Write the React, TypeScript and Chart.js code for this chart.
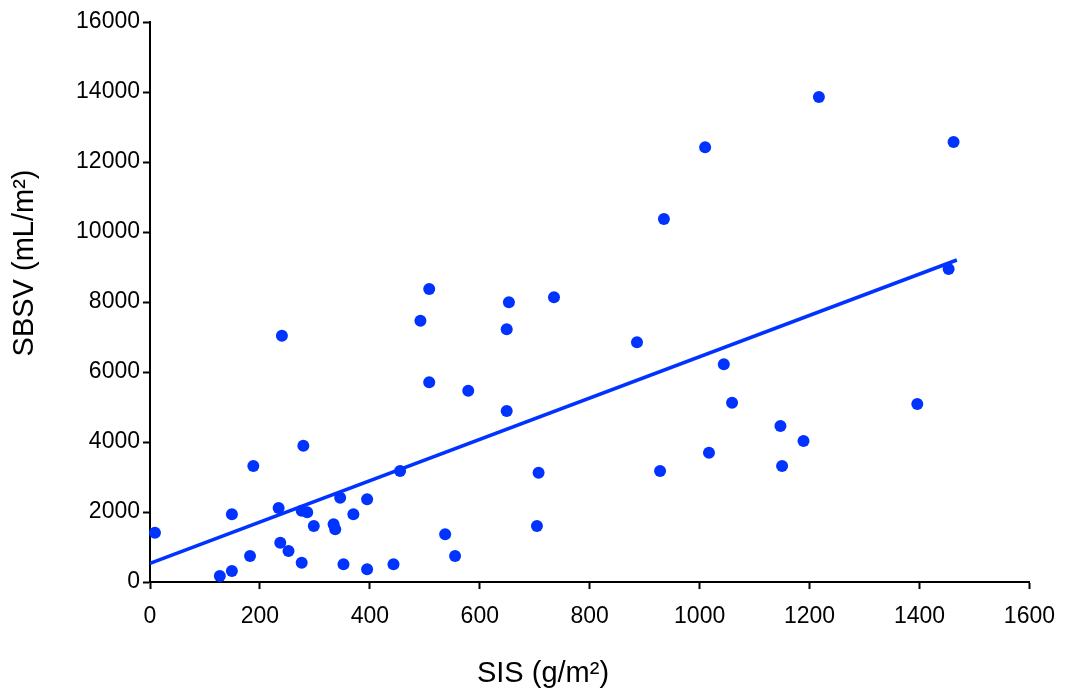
import React, { useEffect, useRef } from "react";
import { Chart, registerables } from "chart.js";

Chart.register(...registerables);

// SIS (g/m²) values
const sisValues: number[] = [
  9, 127, 149, 149, 182, 188, 240, 234, 237, 252,
  276, 279, 276, 286, 298, 334, 337, 346, 352, 370,
  395, 395, 443, 455, 492, 508, 508, 579, 537, 555,
  653, 649, 735, 649, 886, 1044, 1059, 1147, 1017, 1150,
  928, 707, 704, 1217, 1462, 1453, 1396, 1189, 1010, 935,
];
// SBSV (mL/m²) values
const sbsvValues: number[] = [
  1409, 171, 314, 1933, 743, 3314, 7038, 2114, 1124, 886,
  552, 3895, 2038, 1990, 1600, 1648, 1505, 2410, 505, 1933,
  2362, 362, 505, 3171, 7467, 8371, 5705, 5467, 1362, 743,
  7990, 7219, 8133, 4886, 6848, 6219, 5124, 4457, 3695, 3314,
  3171, 3124, 1600, 13857, 12571, 8943, 5086, 4029, 12419, 10371,
];
// Regression line endpoints
const fitX: number[] = [0, 1468];
const fitY: number[] = [534, 9200];

const xTicks = { min: 0, max: 1600, step: 200 };
const yTicks = { min: 0, max: 16000, step: 2000 };

const xTitle = "SIS (g/m²)";
const yTitle = "SBSV (mL/m²)";

const BLUE = "rgb(0,51,255)";
const FONT = "'Liberation Sans', Arial, Helvetica, sans-serif";

const titlePlugin = {
  id: "axisTitles",
  afterDraw(chart: any) {
    const ctx = chart.ctx;
    ctx.save();
    ctx.fillStyle = "#000";
    ctx.font = `29px ${FONT}`;
    ctx.textAlign = "center";
    ctx.textBaseline = "alphabetic";
    ctx.fillText(xTitle, 543, 682);
    ctx.translate(33, 263);
    ctx.rotate(-Math.PI / 2);
    ctx.fillText(yTitle, 0, 0);
    ctx.restore();
  },
};

export default function App() {
  const ref = useRef<HTMLCanvasElement | null>(null);
  useEffect(() => {
    if (!ref.current) return;
    const points = sisValues.map((x, i) => ({ x, y: sbsvValues[i] }));
    const fit = fitX.map((x, i) => ({ x, y: fitY[i] }));
    const tickFont = { family: FONT, size: 23 };
    const plain = (v: any) => String(v);
    const chart = new Chart(ref.current, {
      type: "scatter",
      data: {
        datasets: [
          {
            type: "line",
            data: fit,
            borderColor: BLUE,
            borderWidth: 3.5,
            pointRadius: 0,
            showLine: true,
            fill: false,
            order: 0,
          } as any,
          {
            data: points,
            backgroundColor: BLUE,
            borderColor: BLUE,
            borderWidth: 0,
            pointRadius: 6,
            clip: false,
            order: 1,
          },
        ],
      },
      options: {
        responsive: false,
        animation: false,
        devicePixelRatio: 1,
        layout: { padding: { left: 0, right: 39, top: 22, bottom: 0 } },
        plugins: { legend: { display: false }, tooltip: { enabled: false } },
        scales: {
          x: {
            type: "linear",
            min: xTicks.min,
            max: xTicks.max,
            ticks: { stepSize: xTicks.step, font: tickFont, color: "#000", padding: 14, maxRotation: 0, callback: plain },
            grid: { drawOnChartArea: false, drawTicks: true, tickLength: 7, tickColor: "#000", tickWidth: 2 },
            border: { color: "#000", width: 2 },
            afterFit: (s: any) => { s.height = 106; },
          },
          y: {
            type: "linear",
            min: yTicks.min,
            max: yTicks.max,
            ticks: { stepSize: yTicks.step, font: tickFont, color: "#000", padding: 3, callback: plain },
            grid: { drawOnChartArea: false, drawTicks: true, tickLength: 7, tickColor: "#000", tickWidth: 2 },
            border: { color: "#000", width: 2 },
            afterFit: (s: any) => { s.width = 150; },
          },
        },
      },
      plugins: [titlePlugin],
    });
    return () => chart.destroy();
  }, []);
  return (
    <div style={{ position: "absolute", left: 0, top: 0, width: 1069, height: 688, background: "#fff" }}>
      <canvas ref={ref} width={1069} height={688} style={{ display: "block" }} />
    </div>
  );
}
